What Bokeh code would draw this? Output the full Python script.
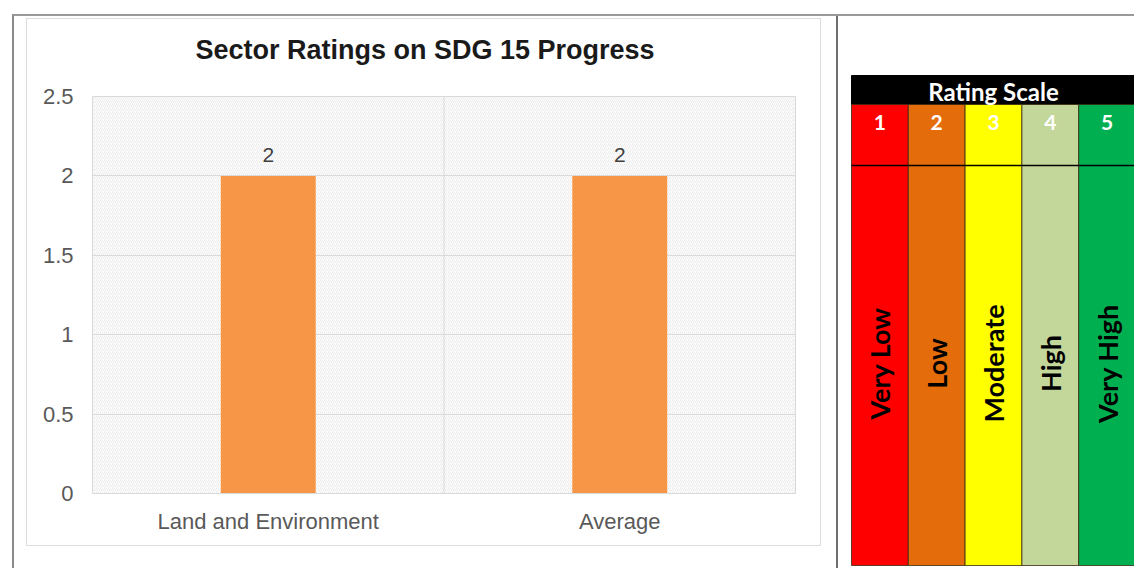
import math
from bokeh.plotting import figure
from bokeh.models import (ColumnDataSource, FactorRange, Range1d, FixedTicker,
                          LabelSet, Title, Span, BoxAnnotation)
from bokeh.layouts import row
from bokeh.embed import file_html
from bokeh.resources import INLINE
from bokeh.core.properties import value

# ---------------- data ----------------
categories = ["Land and Environment", "Average"]
ratings = [2, 2]
rating_labels = ["2", "2"]
y_ticks = [0, 0.5, 1, 1.5, 2, 2.5]
y_tick_labels = ["0", "0.5", "1", "1.5", "2", "2.5"]
chart_title = "Sector Ratings on SDG 15 Progress"

scale_title = "Rating Scale"
scale_numbers = ["1", "2", "3", "4", "5"]
scale_labels = ["Very Low", "Low", "Moderate", "High", "Very High"]
scale_colors = ["#FF0000", "#E46C0A", "#FFFF00", "#C4D79B", "#00B050"]

def no_frame_align(fig):
    try:
        fig.frame_align = False
    except Exception:
        pass

# ---------------- left: bar chart ----------------
PW, PH = 795, 528
p = figure(width=PW, height=PH, title=None,
           x_range=FactorRange(factors=categories, range_padding=0),
           y_range=Range1d(0, 2.5),
           output_backend="svg", toolbar_location=None,
           min_border_left=65, min_border_right=27,
           min_border_top=77, min_border_bottom=54,
           margin=(2, 15, 0, 12),
           styles={"border": "1px solid #dcdcdc"})
no_frame_align(p)
p.background_fill_color = "white"
p.border_fill_color = "white"
p.outline_line_color = "#d9d9d9"

# hatched plot-area background
p.add_layout(BoxAnnotation(fill_color=None, line_color=None,
                           hatch_pattern="/", hatch_color="#dedede",
                           hatch_scale=4, hatch_weight=0.6, level="underlay"))

src = ColumnDataSource(dict(cat=categories, val=ratings, lab=rating_labels))
p.vbar(x="cat", top="val", width=0.27, source=src,
       fill_color="#F79646", line_color=None)

p.add_layout(LabelSet(x="cat", y="val", text="lab", source=src, y_offset=14,
                      text_align="center", text_baseline="alphabetic",
                      text_font=value("Liberation Sans"), text_font_size="21px",
                      text_color="#404040"))

p.ygrid.ticker = FixedTicker(ticks=y_ticks)
p.ygrid.grid_line_color = "#d9d9d9"
p.xgrid.visible = False
p.add_layout(Span(location=1, dimension="height", line_color="#d9d9d9", line_width=1))

p.yaxis.ticker = FixedTicker(ticks=y_ticks)
p.yaxis.major_label_overrides = {t: l for t, l in zip(y_ticks, y_tick_labels)}
p.yaxis.axis_line_color = None
p.yaxis.major_tick_line_color = None
p.yaxis.minor_tick_line_color = None
p.yaxis.major_tick_out = 0
p.yaxis.major_tick_in = 0
p.yaxis.major_label_standoff = 19
p.yaxis.major_label_text_font = "Liberation Sans"
p.yaxis.major_label_text_font_size = "22px"
p.yaxis.major_label_text_color = "#595959"

p.xaxis.axis_line_color = "#d9d9d9"
p.xaxis.major_tick_line_color = None
p.xaxis.major_tick_out = 0
p.xaxis.major_tick_in = 0
p.xaxis.major_label_standoff = 15
p.xaxis.major_label_text_font = "Liberation Sans"
p.xaxis.major_label_text_font_size = "22px"
p.xaxis.major_label_text_color = "#595959"

# spacer between frame and title, then the chart title (outermost)
p.add_layout(Title(text=" ", text_font_size="1px", standoff=24), "above")
p.add_layout(Title(text=chart_title, align="left", offset=103, standoff=10,
                   text_font="Liberation Sans", text_font_size="27px",
                   text_font_style="bold", text_color="#1a1a1a"), "above")

# ---------------- right: rating scale ----------------
QW, QH = 298, 552
LEFT_PAD, TABLE_W = 13, 284
colw = TABLE_W / 5
q = figure(width=QW, height=QH,
           x_range=Range1d(-LEFT_PAD / colw, (QW - LEFT_PAD) / colw),
           y_range=Range1d(QH, 0),
           x_axis_type=None, y_axis_type=None, min_border=0,
           output_backend="svg", toolbar_location=None,
           styles={"border-left": "2px solid #6e6e6e"})
no_frame_align(q)
q.grid.visible = False
q.outline_line_color = None
q.background_fill_color = "white"
q.border_fill_color = "white"

HEADER_TOP, HEADER_BOT, NUM_BOT, TABLE_BOT = 59, 88, 149, 549
NUM_Y, LABEL_Y = 106, 347

idx = list(range(len(scale_numbers)))
tsrc = ColumnDataSource(dict(
    left=idx, right=[i + 1 for i in idx], mid=[i + 0.5 for i in idx],
    color=scale_colors, num=scale_numbers, lab=scale_labels))

q.quad(left=0, right=len(idx), top=HEADER_TOP, bottom=HEADER_BOT,
       fill_color="black", line_color="black")
q.quad(left="left", right="right", top=HEADER_BOT, bottom=NUM_BOT, source=tsrc,
       fill_color="color", line_color="#3a2a10", line_alpha=0.8, line_width=1)
q.quad(left="left", right="right", top=NUM_BOT, bottom=TABLE_BOT, source=tsrc,
       fill_color="color", line_color="#3a2a10", line_alpha=0.8, line_width=1)
q.segment(x0=0, x1=len(idx), y0=NUM_BOT, y1=NUM_BOT, line_color="black", line_width=1.5)

q.text(x=len(idx) / 2, y=(HEADER_TOP + HEADER_BOT) / 2 + 1, text=[scale_title],
       text_align="center", text_baseline="middle", text_color="white",
       text_font=value("Lato"), text_font_style="bold", text_font_size="24px")
q.text(x="mid", y=NUM_Y, text="num", source=tsrc,
       text_align="center", text_baseline="middle", text_color="white",
       text_font=value("Lato"), text_font_style="bold", text_font_size="21px")
q.text(x="mid", y=LABEL_Y, text="lab", source=tsrc, angle=math.pi / 2,
       text_align="center", text_baseline="middle", text_color="black",
       text_font=value("Lato"), text_font_style="bold", text_font_size="27px")

layout = row(p, q, spacing=0, margin=(14, 0, 0, 12),
             styles={"border-top": "2px solid #9a9a9a",
                     "border-left": "2px solid #8a8a8a"})
open("out.html", "w").write(file_html(layout, INLINE))
